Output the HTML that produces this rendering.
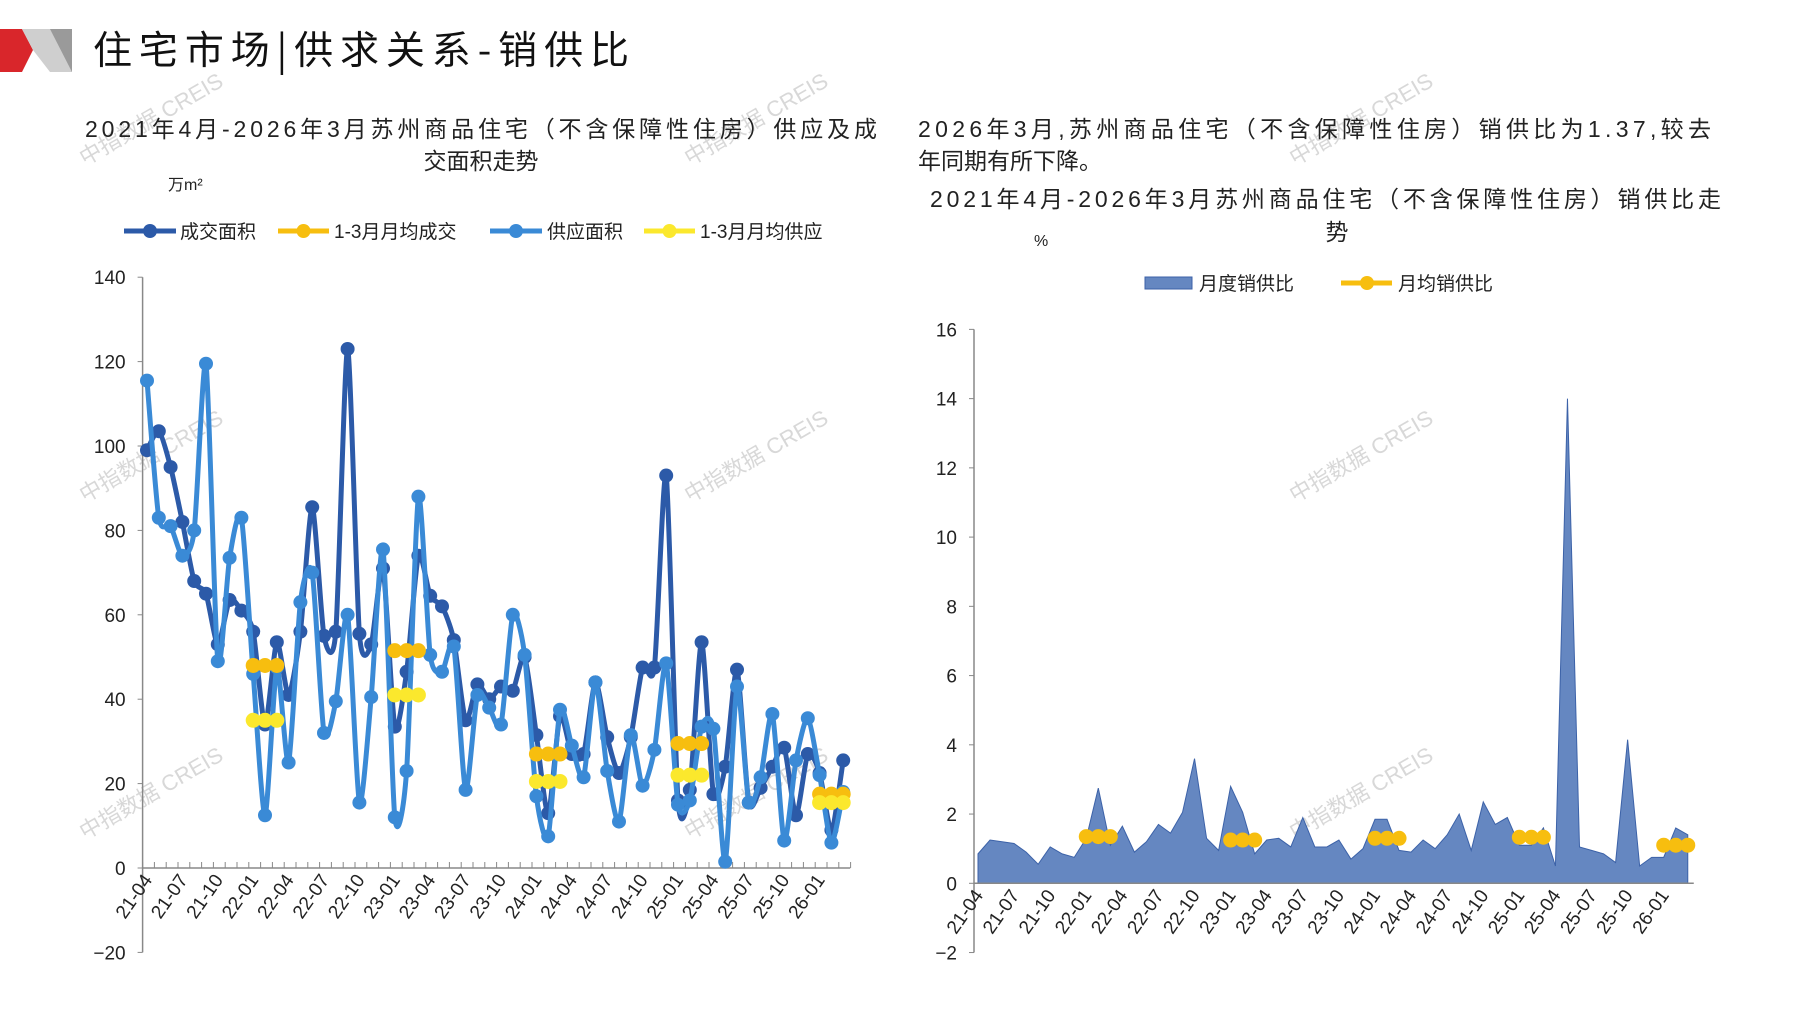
<!DOCTYPE html>
<html><head><meta charset="utf-8"><style>
html,body{margin:0;padding:0;background:#fff;}
svg{display:block;font-family:"Liberation Sans","Noto Sans CJK SC",sans-serif;}
</style></head><body>
<svg id="s" width="1797" height="1010" viewBox="0 0 1797 1010" xmlns="http://www.w3.org/2000/svg">
<polygon points="0,29 22,29 33,50 22,72 0,72" fill="#d9262b"/>
<polygon points="22,29 72,29 72,72 50,72 33,50" fill="#cfcfcf"/>
<polygon points="50,29 72,29 72,72" fill="#9a9a9a"/>
<text x="93" y="64" font-size="39" fill="#111" font-family="'Noto Sans CJK SC',sans-serif" textLength="536">住宅市场|供求关系-销供比</text>
<g fill="#d8d8d8" font-size="22" font-family="'Liberation Sans','Noto Sans CJK SC',sans-serif">
<text transform="translate(85,166) rotate(-30)">中指数据 CREIS</text>
<text transform="translate(690,166) rotate(-30)">中指数据 CREIS</text>
<text transform="translate(1295,166) rotate(-30)">中指数据 CREIS</text>
<text transform="translate(85,503) rotate(-30)">中指数据 CREIS</text>
<text transform="translate(690,503) rotate(-30)">中指数据 CREIS</text>
<text transform="translate(1295,503) rotate(-30)">中指数据 CREIS</text>
<text transform="translate(85,840) rotate(-30)">中指数据 CREIS</text>
<text transform="translate(690,840) rotate(-30)">中指数据 CREIS</text>
<text transform="translate(1295,840) rotate(-30)">中指数据 CREIS</text>
</g>
<g font-size="23" fill="#222">
<text x="85" y="137" textLength="792">2021年4月-2026年3月苏州商品住宅（不含保障性住房）供应及成</text>
<text x="481" y="169" text-anchor="middle">交面积走势</text>
<text x="918" y="137" textLength="793">2026年3月,苏州商品住宅（不含保障性住房）销供比为1.37,较去</text>
<text x="918" y="169">年同期有所下降。</text>
<text x="930" y="207" textLength="791">2021年4月-2026年3月苏州商品住宅（不含保障性住房）销供比走</text>
<text x="1337" y="240" text-anchor="middle">势</text>
</g>
<text x="168" y="190" font-size="16" fill="#222">万m²</text>
<text x="1034" y="246" font-size="16" fill="#222">%</text>
<g id="leg" font-size="19" fill="#222"></g>
<g id="left"></g><g id="right"></g>
</svg>
<script>
const NS="http://www.w3.org/2000/svg";
function el(p,t,a,txt){const e=document.createElementNS(NS,t);for(const k in a)e.setAttribute(k,a[k]);if(txt!==undefined)e.textContent=txt;p.appendChild(e);return e;}
const L=document.getElementById('left'),R=document.getElementById('right'),G=document.getElementById('leg');
const deal=[99,103.5,95,82,68,65,53,63.5,61,56,34,53.5,41,56,85.5,55,56,123,55.5,53,71,33.5,46.5,74,64.5,62,54,35,43.5,40,43,42,50,31.5,13,36,27,27,44,31,22.5,31,47.5,47.5,93,16,18.5,53.5,17.5,24,47,15.5,19,24,28.5,12.5,27,22.5,9,25.5];
const sup=[115.5,83,81,74,80,119.5,49,73.5,83,46,12.5,47.5,25,63,70,32,39.5,60,15.5,40.5,75.5,12,23,88,50.5,46.5,52.5,18.5,41,38,34,60,50.5,17,7.5,37.5,29,21.5,44,23,11,31.5,19.5,28,48.5,15,16,33.5,33,1.5,43,15.5,21.5,36.5,6.5,25.5,35.5,22,6,18];
const ratio=[0.85,1.25,1.2,1.15,0.9,0.55,1.05,0.85,0.75,1.3,2.75,1.1,1.65,0.9,1.2,1.7,1.45,2.05,3.6,1.3,0.95,2.8,2.05,0.85,1.25,1.3,1.05,1.9,1.05,1.05,1.25,0.7,1.0,1.85,1.85,0.95,0.9,1.25,1.0,1.4,2.0,0.95,2.35,1.7,1.9,1.1,1.1,1.6,0.5,14.0,1.05,0.95,0.85,0.6,4.15,0.5,0.75,0.75,1.6,1.4];
const labs=[];for(let i=0;i<60;i+=3){const m=(3+i)%12+1,y=21+Math.floor((3+i)/12);labs.push([i,y+'-'+String(m).padStart(2,'0')]);}
function smooth(pts){let d='M'+pts[0][0]+','+pts[0][1];for(let i=0;i<pts.length-1;i++){const p0=pts[i-1]||pts[i],p1=pts[i],p2=pts[i+1],p3=pts[i+2]||p2;const t=0.12;d+=` C${p1[0]+(p2[0]-p0[0])*t},${p1[1]+(p2[1]-p0[1])*t} ${p2[0]-(p3[0]-p1[0])*t},${p2[1]-(p3[1]-p1[1])*t} ${p2[0]},${p2[1]}`;}return d;}
// left chart
{const ax=142.6,y0=868,u=4.22,x0=147,st=11.8;const Y=v=>y0-v*u,X=i=>x0+i*st;
el(L,'line',{x1:ax,y1:Y(140),x2:ax,y2:Y(-20),stroke:'#888','stroke-width':1.5});
el(L,'line',{x1:ax,y1:y0,x2:X(59)+7,y2:y0,stroke:'#888','stroke-width':1.5});
for(let v=-20;v<=140;v+=20){el(L,'line',{x1:ax-5,y1:Y(v),x2:ax,y2:Y(v),stroke:'#888'});el(L,'text',{x:ax-17,y:Y(v)+7,'text-anchor':'end','font-size':19,fill:'#222'},v===-20?'−20':v);}
for(let i=0;i<=60;i++){const x=ax+i*st;el(L,'line',{x1:x,y1:y0-6,x2:x,y2:y0,stroke:'#888'});}
labs.forEach(([i,t])=>el(L,'text',{transform:`translate(${X(i)+6},${y0+12}) rotate(-55)`,'text-anchor':'end','font-size':19,fill:'#222'},t));
const draw=(arr,c)=>{const p=arr.map((v,i)=>[X(i),Y(v)]);el(L,'path',{d:smooth(p),fill:'none',stroke:c,'stroke-width':5});p.forEach(q=>el(L,'circle',{cx:q[0],cy:q[1],r:7,fill:c}));};
draw(deal,'#2c5aa8');draw(sup,'#3a8ad6');
const av=(arr,c)=>[[9,arr[0]],[21,arr[1]],[33,arr[2]],[45,arr[3]],[57,arr[4]]].forEach(([s,v])=>{el(L,'line',{x1:X(s),y1:Y(v),x2:X(s+2),y2:Y(v),stroke:c,'stroke-width':5});for(let k=0;k<3;k++)el(L,'circle',{cx:X(s+k),cy:Y(v),r:7.5,fill:c});});
av([48,51.5,27,29.5,17.5],'#f7be0f');av([35,41,20.5,22,15.5],'#fbe82d');}
// right chart
{const ax=974,y0=883.3,u=34.62,x0=978,st=12.03;const Y=v=>y0-v*u,X=i=>x0+i*st;
let d=`M${X(0)},${y0}`;ratio.forEach((v,i)=>d+=` L${X(i)},${Y(v)}`);d+=` L${X(59)},${y0} Z`;
el(R,'path',{d,fill:'#6587c1',stroke:'#3c62a8','stroke-width':1});
el(R,'line',{x1:ax,y1:Y(16),x2:ax,y2:Y(-2),stroke:'#888','stroke-width':1.5});
el(R,'line',{x1:ax,y1:y0,x2:X(59)+6,y2:y0,stroke:'#888','stroke-width':1.5});
for(let v=-2;v<=16;v+=2){el(R,'line',{x1:ax-5,y1:Y(v),x2:ax,y2:Y(v),stroke:'#888'});el(R,'text',{x:ax-17,y:Y(v)+7,'text-anchor':'end','font-size':19,fill:'#222'},v===-2?'−2':v);}
labs.forEach(([i,t])=>el(R,'text',{transform:`translate(${X(i)+6},${y0+12}) rotate(-55)`,'text-anchor':'end','font-size':19,fill:'#222'},t));
[[9,1.35],[21,1.25],[33,1.3],[45,1.33],[57,1.1]].forEach(([s,v])=>{el(R,'line',{x1:X(s),y1:Y(v),x2:X(s+2),y2:Y(v),stroke:'#f7be0f','stroke-width':5});for(let k=0;k<3;k++)el(R,'circle',{cx:X(s+k),cy:Y(v),r:7.5,fill:'#f7be0f'});});}
// legends
function lg(x1,x2,c,tx,t){el(G,'line',{x1,y1:231,x2,y2:231,stroke:c,'stroke-width':5});el(G,'circle',{cx:(x1+x2)/2,cy:231,r:7,fill:c});el(G,'text',{x:tx,y:238},t);}
lg(124,176,'#2c5aa8',180,'成交面积');lg(278,329,'#f7be0f',334,'1-3月月均成交');lg(490,542,'#3a8ad6',547,'供应面积');lg(644,695,'#fbe82d',700,'1-3月月均供应');
el(G,'rect',{x:1145,y:277,width:47,height:12,fill:'#6587c1',stroke:'#3c62a8'});el(G,'text',{x:1199,y:290},'月度销供比');
el(G,'line',{x1:1341,y1:283,x2:1392,y2:283,stroke:'#f7be0f','stroke-width':5});el(G,'circle',{cx:1367,cy:283,r:7,fill:'#f7be0f'});el(G,'text',{x:1398,y:290},'月均销供比');
</script>
</body></html>
